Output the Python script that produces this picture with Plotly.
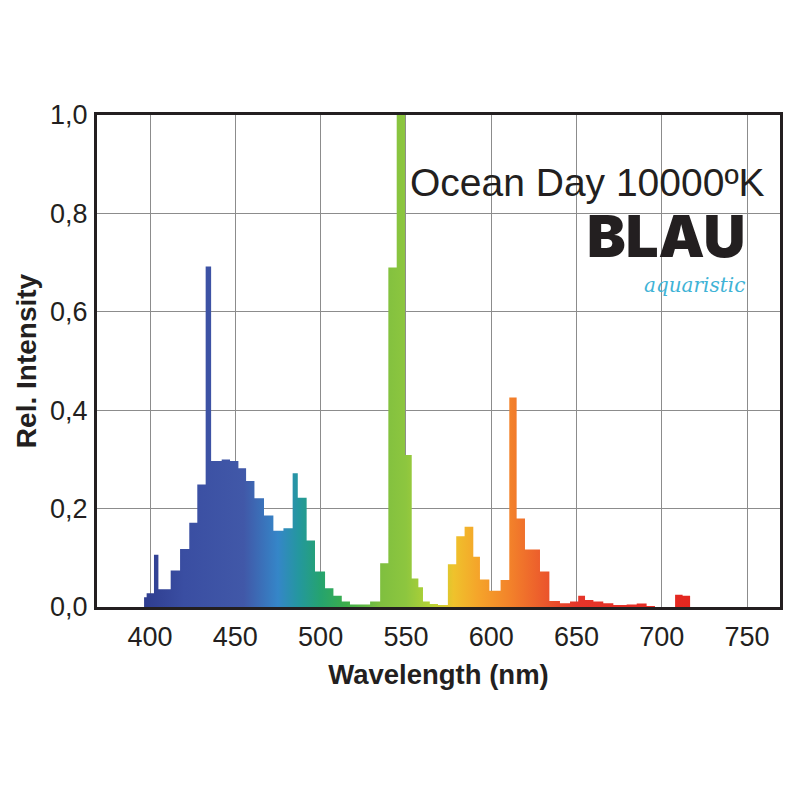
import plotly.graph_objects as go

# Spectrum as steps: left edge of each step (nm) and its relative intensity
edges = [396.5, 398.0, 402.3, 404.9, 412.1, 417.6, 423.0, 427.7, 432.6, 435.8,
         442.0, 446.9, 451.8, 456.3, 461.2, 466.8, 472.3, 478.2, 483.6, 486.6,
         491.8, 496.7, 502.6, 507.5, 512.4, 517.2, 523.1, 529.0, 534.9, 539.7,
         544.6, 549.5, 553.4, 557.3, 560.0, 564.0, 568.8, 574.6, 579.5, 584.4,
         589.5, 593.4, 598.9, 605.5, 610.6, 614.9, 619.8, 628.6, 634.1, 640.3,
         646.2, 651.0, 655.0, 659.9, 665.7, 671.6, 679.4, 685.3, 691.1, 696.0,
         707.8, 712.2, 716.6]
values = [0.020, 0.028, 0.106, 0.036, 0.074, 0.118, 0.171, 0.249, 0.692, 0.297,
          0.300, 0.297, 0.282, 0.256, 0.221, 0.186, 0.155, 0.160, 0.272, 0.222,
          0.135, 0.072, 0.038, 0.023, 0.011, 0.005, 0.005, 0.011, 0.089, 0.690,
          1.000, 0.309, 0.058, 0.040, 0.011, 0.006, 0.004, 0.087, 0.144, 0.163,
          0.102, 0.056, 0.033, 0.055, 0.426, 0.180, 0.117, 0.072, 0.012, 0.0075,
          0.011, 0.023, 0.014, 0.011, 0.0075, 0.004, 0.005, 0.007, 0.002, 0.0,
          0.025, 0.023, 0.0]

x_ticks = [400, 450, 500, 550, 600, 650, 700, 750]
y_ticks = [0.0, 0.2, 0.4, 0.6, 0.8, 1.0]

title_text = "Ocean Day 10000ºK"
brand_text = "BLAU"
brand_sub = "aquaristic"
x_title = "Wavelength (nm)"
y_title = "Rel. Intensity"

# wavelength -> colour stops
grad_nm = [395, 420, 455, 475, 487, 500, 515, 535, 550, 565, 578, 592, 610, 630, 650, 720]
grad_col = ["#2e3c8e", "#3a4ea2", "#4158a8", "#3586c8", "#24979f", "#25a36f",
            "#3cae4a", "#7fbf3f", "#8dc63f", "#b5d334", "#efc22c", "#f5a52a",
            "#f3842a", "#ec5b2c", "#e5352a", "#e3261f"]
g0, g1 = grad_nm[0], grad_nm[-1]
colorscale = [[(n - g0) / (g1 - g0), c] for n, c in zip(grad_nm, grad_col)]

ink = "#231f20"
font_main = "Liberation Sans, Arial, sans-serif"

fig = go.Figure()
fig.add_trace(go.Scatter(
    x=edges, y=values, mode="lines", line=dict(width=0, shape="hv"),
    fill="tozeroy",
    fillgradient=dict(type="horizontal", colorscale=colorscale, start=g0, stop=g1),
    hoverinfo="skip", showlegend=False,
))

fig.update_layout(
    width=800, height=800,
    margin=dict(l=97, r=20, t=115, b=193),
    paper_bgcolor="white", plot_bgcolor="white",
    separators=",.",
    font=dict(family=font_main, color=ink),
    showlegend=False,
)
fig.update_xaxes(
    range=[368.9, 769.3], tickvals=x_ticks, ticktext=[str(v) for v in x_ticks],
    showgrid=True, gridcolor="#8c8c8c", gridwidth=1,
    showline=True, mirror=True, linecolor=ink, linewidth=3,
    ticks="", ticklabelstandoff=4, zeroline=False,
    tickfont=dict(size=27, color=ink, family=font_main),
    title=dict(text=x_title, standoff=14,
               font=dict(size=27.5, color=ink, family=font_main, weight="bold")),
)
fig.update_yaxes(
    range=[0, 1.0], tickvals=y_ticks, tickformat=".1f",
    showgrid=True, gridcolor="#8c8c8c", gridwidth=1,
    showline=True, mirror=True, linecolor=ink, linewidth=3,
    ticks="", ticklabelstandoff=1, zeroline=False,
    tickfont=dict(size=27, color=ink, family=font_main),
    title=dict(text=y_title, standoff=6,
               font=dict(size=28, color=ink, family=font_main, weight="bold")),
)

fig.add_annotation(x=0.981, y=0.862, xref="paper", yref="paper",
                   xanchor="right", yanchor="middle", showarrow=False,
                   text=title_text,
                   font=dict(size=39, color=ink, family=font_main))
fig.add_annotation(
    x=0.952, y=0.728, xref="paper", yref="paper",
    xanchor="right", yanchor="middle", align="right", showarrow=False,
    text=(f"<span style='font-size:58px;font-family:Inter, DejaVu Sans;"
          f"font-weight:900;color:{ink}'>{brand_text}</span><br>"
          f"<span style='font-size:20px;color:#3fb3d6;font-family:DejaVu Serif'>"
          f"<i>{brand_sub}</i></span>"),
    font=dict(size=27, color=ink, family="Inter, DejaVu Sans"),
)

fig.write_html("out.html")
